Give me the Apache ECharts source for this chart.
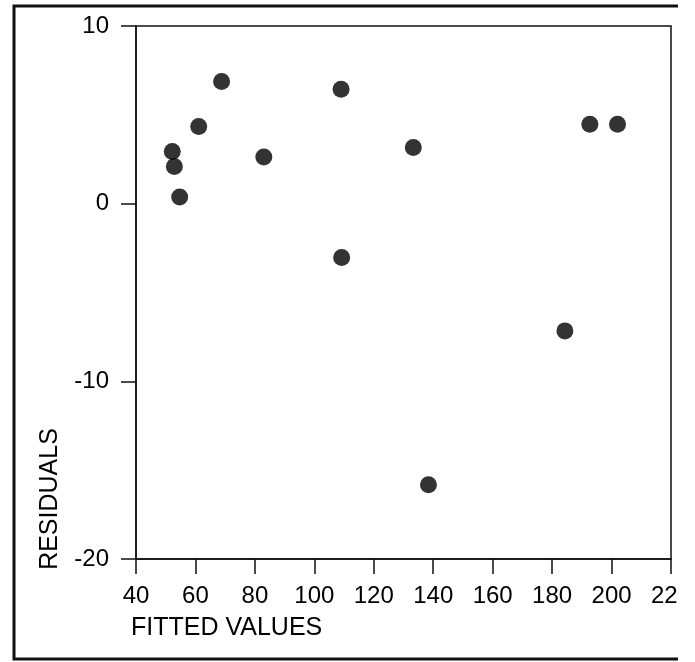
<!DOCTYPE html>
<html>
<head>
<meta charset="utf-8">
<script src="https://cdn.jsdelivr.net/npm/echarts@6/dist/echarts.min.js"></script>
<style>
    html, body { margin: 0; padding: 0; background: #fff; }
    #main { width: 695px; height: 662px; }
</style>
</head>
<body>
<div id="main"></div>
<script>
// fitted values (x) and residuals (y)
var fitted = [52.2, 52.9, 54.7, 61.1, 68.8, 83.0, 109.0, 109.2, 133.3, 138.4, 184.3, 192.7, 202.0];
var residuals = [2.94, 2.09, 0.37, 4.34, 6.88, 2.63, 6.44, -3.03, 3.16, -15.82, -7.16, 4.47, 4.47];

var xTicks = [40, 220, 20];   // min, max, step
var yTicks = [-20, 10, 10];

var points = fitted.map(function(x, i) {
    return [x, residuals[i]];
});

var font = 'Liberation Sans, Arial, Helvetica, sans-serif';
var chart = echarts.init(document.getElementById('main'));

var option = {
    animation: false,
    backgroundColor: '#fff',
    grid: {
        left: 136,
        right: 24,
        top: 26,
        bottom: 103,
        show: true,
        borderColor: '#111',
        borderWidth: 1.5
    },
    xAxis: {
        type: 'value',
        min: xTicks[0],
        max: xTicks[1],
        interval: xTicks[2],
        axisLine: { onZero: false, lineStyle: { color: '#111', width: 1.5 } },
        axisTick: { length: 15, lineStyle: { color: '#111', width: 1.5 } },
        axisLabel: {
            margin: 25,
            color: '#000',
            fontSize: 24,
            fontFamily: font
        },
        splitLine: { show: false }
    },
    yAxis: {
        type: 'value',
        min: yTicks[0],
        max: yTicks[1],
        interval: yTicks[2],
        axisLine: { show: true, onZero: false, lineStyle: { color: '#111', width: 1.5 } },
        axisTick: { show: true, length: 15, lineStyle: { color: '#111', width: 1.5 } },
        axisLabel: {
            margin: 27,
            color: '#000',
            fontSize: 24,
            fontFamily: font
        },
        splitLine: { show: false }
    },
    series: [{
        type: 'scatter',
        data: points,
        symbol: 'circle',
        symbolSize: 17,
        itemStyle: { color: '#000' }
    }],
    graphic: [
        {
            type: 'text',
            left: 131,
            top: 616,
            style: { text: 'FITTED VALUES', fill: '#000', font: '25px ' + font }
        },
        {
            type: 'text',
            x: 50,
            y: 499,
            rotation: Math.PI / 2,
            style: {
                text: 'RESIDUALS', fill: '#000', font: '25px ' + font,
                align: 'center', verticalAlign: 'middle'
            }
        },
        // page is cut off at the right edge
        {
            type: 'rect',
            z: 100,
            shape: { x: 678, y: 0, width: 17, height: 662 },
            style: { fill: '#fff' }
        },
        {
            type: 'polyline',
            z: 101,
            shape: { points: [[678, 6], [14, 6], [14, 659], [678, 659]] },
            style: { stroke: '#111', lineWidth: 3, fill: null }
        }
    ]
};
chart.setOption(option);
</script>
</body>
</html>
